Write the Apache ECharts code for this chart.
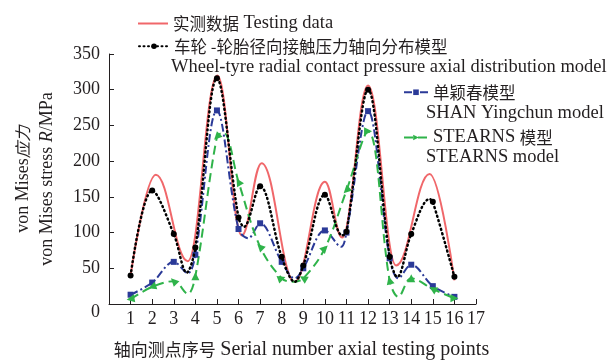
<!DOCTYPE html>
<html>
<head>
<meta charset="utf-8">
<script src="https://cdn.jsdelivr.net/npm/echarts@6/dist/echarts.min.js"></script>
<style>
  html, body { margin: 0; padding: 0; background: #fff; }
  #chart { width: 612px; height: 360px; }
</style>
</head>
<body>
<div id="chart"></div>
<script>
// Axial testing points
const pointNo = [1, 2, 3, 4, 5, 6, 7, 8, 9, 10, 11, 12, 13, 14, 15, 16];
const xTicks = [0, 17, 1];     // min, max, step
const yTicks = [0, 350, 50];   // min, max, step

// Model values at the testing points (MPa)
const wheelModel   = [40, 159, 98, 79, 316, 121, 165, 66, 54, 153, 101, 300, 66, 98, 143, 38];
const shanModel    = [13, 30, 59, 69, 271, 105, 113, 59, 50, 103, 100, 270, 64, 55, 25, 10];
const stearnsModel = [7, 24, 32, 39, 234, 171, 80, 36, 36, 78, 159, 242, 33, 36, 21, 8];
// direction of each STEARNS arrow marker (degrees)
const stearnsArrow = [100, 110, 45, 0, 135, 30, 45, -70, 60, -45, 135, -90, 15, 0, 60, -90];

// Measured stress curve (turning points)
const testingX = [1, 2.17, 3.65, 5.02, 6.15, 7.07, 8.6, 10.0, 10.8, 12.0, 13.3, 14.85, 16];
const testingY = [40, 181, 60, 320, 96, 197, 31, 171, 93, 306, 54, 182, 33];

// Turning points of the model curves between testing points
const wheelTurnX   = [3.6, 6.25, 8.6, 10.8, 13.35, 14.85];
const wheelTurnY   = [44, 108, 31, 96, 38, 147];
const shanTurnX    = [3.65, 6.45, 8.6, 10.75, 13.4];
const shanTurnY    = [43, 92, 36, 80, 36];
const stearnsTurnX = [3.65, 5.3, 8.5, 13.4];
const stearnsTurnY = [14, 240, 31, 10];

const names = [
  '实测数据 Testing data',
  '车轮 -轮胎径向接触压力轴向分布模型',
  '单颖春模型',
  'STEARNS 模型'
];
const legendRich = {
  [names[0]]: '{c|实测数据} {e|Testing data}',
  [names[1]]: '{c|车轮 -轮胎径向接触压力轴向分布模型}',
  [names[2]]: '{c|单颖春模型}',
  [names[3]]: '{e|STEARNS} {c|模型}'
};

const SERIF = "'Liberation Serif', 'Times New Roman', serif";
const CJK = "'Noto Sans CJK SC', sans-serif";
const TXT = '#231f20';
const richText = {
  e: { fontFamily: SERIF, fontSize: 18.5, color: TXT },
  c: { fontFamily: CJK, fontSize: 16.5, color: TXT }
};

function curve(xs, ys, turnX, turnY, extra) {
  const pts = xs.map((x, i) => Object.assign({ value: [x, ys[i]] }, extra ? extra(i) : {}));
  turnX.forEach((x, i) => pts.push({ value: [x, turnY[i]], symbol: 'none' }));
  return pts.sort((a, b) => a.value[0] - b.value[0]);
}

const chart = echarts.init(document.getElementById('chart'), null, { renderer: 'canvas' });

const legendBase = {
  orient: 'vertical',
  itemHeight: 7,
  selectedMode: false,
  formatter: n => legendRich[n],
  textStyle: { fontFamily: SERIF, fontSize: 18, color: TXT, rich: richText }
};

chart.setOption({
  animation: false,
  backgroundColor: '#fff',
  textStyle: { fontFamily: SERIF },
  grid: { left: 109, right: 136, top: 54, bottom: 56, outerBoundsMode: 'none', containLabel: false },
  legend: [
    Object.assign({}, legendBase, { data: [{ name: names[0], icon: 'rect' }], left: 133, top: 9, itemWidth: 30, itemHeight: 2 }),
    Object.assign({}, legendBase, { data: [names[1]], left: 133, top: 33, itemWidth: 30 }),
    Object.assign({}, legendBase, { data: [names[2]], left: 398, top: 79, itemWidth: 24 }),
    Object.assign({}, legendBase, { data: [names[3]], left: 398, top: 123, itemWidth: 24 })
  ],
  graphic: [
    { type: 'text', left: 171, top: 58, style: { text: 'Wheel-tyre radial contact pressure axial distribution model', font: '18.5px ' + SERIF, fill: TXT } },
    { type: 'text', left: 426, top: 104, style: { text: 'SHAN Yingchun model', font: '18.5px ' + SERIF, fill: TXT } },
    { type: 'text', left: 426, top: 148, style: { text: 'STEARNS model', font: '18.5px ' + SERIF, fill: TXT } }
  ],
  xAxis: {
    type: 'value',
    min: xTicks[0], max: xTicks[1], interval: xTicks[2],
    name: '{c|轴向测点序号} {e|Serial number axial testing points}',
    nameLocation: 'middle',
    nameGap: 36,
    nameTextStyle: {
      fontSize: 18,
      padding: [0, 0, 0, 18],
      rich: {
        e: { fontFamily: SERIF, fontSize: 20, color: TXT },
        c: { fontFamily: CJK, fontSize: 17, color: TXT }
      }
    },
    axisLine: { lineStyle: { color: '#231f20', width: 1 } },
    axisTick: { inside: true, length: 5, lineStyle: { color: '#231f20' } },
    axisLabel: {
      fontFamily: SERIF, fontSize: 18, color: TXT, margin: 6,
      formatter: v => (v === 0 ? '' : String(v))
    },
    splitLine: { show: false }
  },
  yAxis: {
    type: 'value',
    min: yTicks[0], max: yTicks[1], interval: yTicks[2],
    name: '{a|von Mises}{i|应力}\n{a|von Mises stress }{r|R}{a|/MPa}',
    nameLocation: 'middle',
    nameRotate: 90,
    nameGap: 50,
    nameTextStyle: {
      fontSize: 18, lineHeight: 24,
      rich: {
        a: { fontFamily: SERIF, fontSize: 18, color: TXT, lineHeight: 24 },
        r: { fontFamily: SERIF, fontSize: 18, color: TXT, fontStyle: 'italic', lineHeight: 24 },
        i: { fontFamily: CJK, fontSize: 16.5, color: TXT, fontStyle: 'italic', lineHeight: 24 }
      }
    },
    axisLine: { show: true, lineStyle: { color: '#231f20', width: 1 } },
    axisTick: { show: true, inside: true, length: 5, lineStyle: { color: '#231f20' } },
    axisLabel: {
      fontFamily: SERIF, fontSize: 18, color: TXT, margin: 9,
      formatter: v => (v === 0 ? '{z|0}' : String(v)),
      rich: { z: { fontFamily: SERIF, fontSize: 18, color: TXT, padding: [16, 0, 0, 0] } }
    },
    splitLine: { show: false }
  },
  series: [
    {
      name: names[0],
      type: 'line',
      smooth: 0.4,
      smoothMonotone: 'x',
      showSymbol: false,
      symbol: 'none',
      lineStyle: { color: '#f0676a', width: 2 },
      itemStyle: { color: '#f0676a' },
      data: testingX.map((x, i) => [x, testingY[i]]),
      z: 2
    },
    {
      name: names[1],
      type: 'line',
      smooth: 0.35,
      symbol: 'circle',
      symbolSize: 6,
      lineStyle: { color: '#000', width: 2.5, type: [1, 3.5], cap: 'round' },
      itemStyle: { color: '#000' },
      data: curve(pointNo, wheelModel, wheelTurnX, wheelTurnY),
      z: 4
    },
    {
      name: names[2],
      type: 'line',
      smooth: 0.35,
      symbol: 'rect',
      symbolSize: 6,
      lineStyle: { color: '#2b3a98', width: 2, type: [8, 3, 2, 3] },
      itemStyle: { color: '#2b3a98' },
      data: curve(pointNo, shanModel, shanTurnX, shanTurnY),
      z: 3
    },
    {
      name: names[3],
      type: 'line',
      smooth: 0.35,
      symbol: 'triangle',
      symbolSize: 8,
      symbolRotate: -90,
      lineStyle: { color: '#2fb34a', width: 2, type: [9, 5] },
      itemStyle: { color: '#2fb34a' },
      data: curve(pointNo, stearnsModel, stearnsTurnX, stearnsTurnY, i => ({ symbolRotate: stearnsArrow[i] })),
      z: 3
    }
  ]
});
</script>
</body>
</html>
